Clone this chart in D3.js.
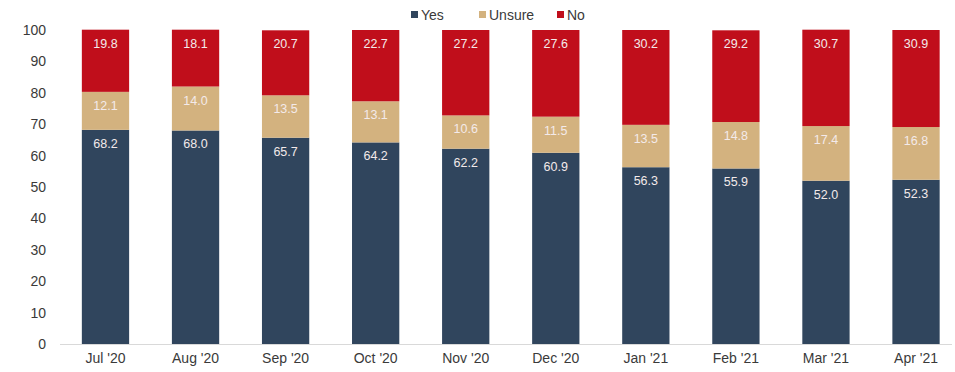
<!DOCTYPE html>
<html><head><meta charset="utf-8">
<script src="https://cdn.jsdelivr.net/npm/d3@7"></script>
<style>body{margin:0;background:#fff}svg{display:block;font-family:"Liberation Sans",Arial,sans-serif}</style>
</head><body><div id="chart"></div>
<script>
const categories = ["Jul '20","Aug '20","Sep '20","Oct '20","Nov '20","Dec '20","Jan '21","Feb '21","Mar '21","Apr '21"];
const yesValues = [68.2,68.0,65.7,64.2,62.2,60.9,56.3,55.9,52.0,52.3];
const unsureValues = [12.1,14.0,13.5,13.1,10.6,11.5,13.5,14.8,17.4,16.8];
const noValues = [19.8,18.1,20.7,22.7,27.2,27.6,30.2,29.2,30.7,30.9];
const seriesNames = ["Yes","Unsure","No"];
const yTicks = [0,10,20,30,40,50,60,70,80,90,100];
const colors = {"Yes":"#30455d","Unsure":"#d3b27f","No":"#c00e1b"};

const W = 955, H = 372;
const svg = d3.select("#chart").append("svg").attr("width", W).attr("height", H);

const rows = categories.map((c,i)=>({cat:c, Yes:yesValues[i], Unsure:unsureValues[i], No:noValues[i]}));
const stack = d3.stack().keys(seriesNames)(rows);

const x = d3.scaleBand().domain(categories).range([60.5, 961]).paddingInner(0.475).paddingOuter(0.237);
const y = d3.scaleLinear().domain([0,100]).range([344, 30]);

// axis baseline
svg.append("line").attr("x1",60).attr("x2",952).attr("y1",y(0)+0.5).attr("y2",y(0)+0.5)
  .attr("stroke","#d9d9d9").attr("stroke-width",1);

// y axis
const yAxis = svg.append("g").attr("transform","translate(46,0)")
  .call(d3.axisLeft(y).tickValues(yTicks).tickSize(0).tickPadding(0));
yAxis.select(".domain").remove();
yAxis.selectAll("text").attr("font-size",14).attr("fill","#3a3a3a").attr("font-family","'Liberation Sans',Arial,sans-serif");

// x axis
const xAxis = svg.append("g").attr("transform",`translate(0,${y(0)})`)
  .call(d3.axisBottom(x).tickSize(0).tickPadding(9));
xAxis.select(".domain").remove();
xAxis.selectAll("text").attr("font-size",14).attr("fill","#3a3a3a").attr("font-family","'Liberation Sans',Arial,sans-serif");

// bars
const g = svg.append("g");
stack.forEach(s=>{
  const key = s.key;
  g.selectAll(null).data(s).enter().append("rect")
    .attr("x", d=>x(d.data.cat))
    .attr("width", x.bandwidth())
    .attr("y", d=>y(d[1]))
    .attr("height", d=>y(d[0])-y(d[1]))
    .attr("fill", colors[key]);
  g.selectAll(null).data(s).enter().append("text")
    .attr("x", d=>x(d.data.cat)+x.bandwidth()/2)
    .attr("y", d=>y(d[1])+18)
    .attr("text-anchor","middle")
    .attr("font-size",12.5)
    .attr("fill","#f3eaea")
    .text(d=>d.data[key].toFixed(1));
});

// legend
const legendX = [411, 479, 557];
const lg = svg.append("g");
seriesNames.forEach((n,i)=>{
  lg.append("rect").attr("x",legendX[i]).attr("y",11).attr("width",7).attr("height",7).attr("fill",colors[n]);
  lg.append("text").attr("x",legendX[i]+10).attr("y",19.5).attr("font-size",14).attr("fill","#3a3a3a").text(n);
});
</script></body></html>
